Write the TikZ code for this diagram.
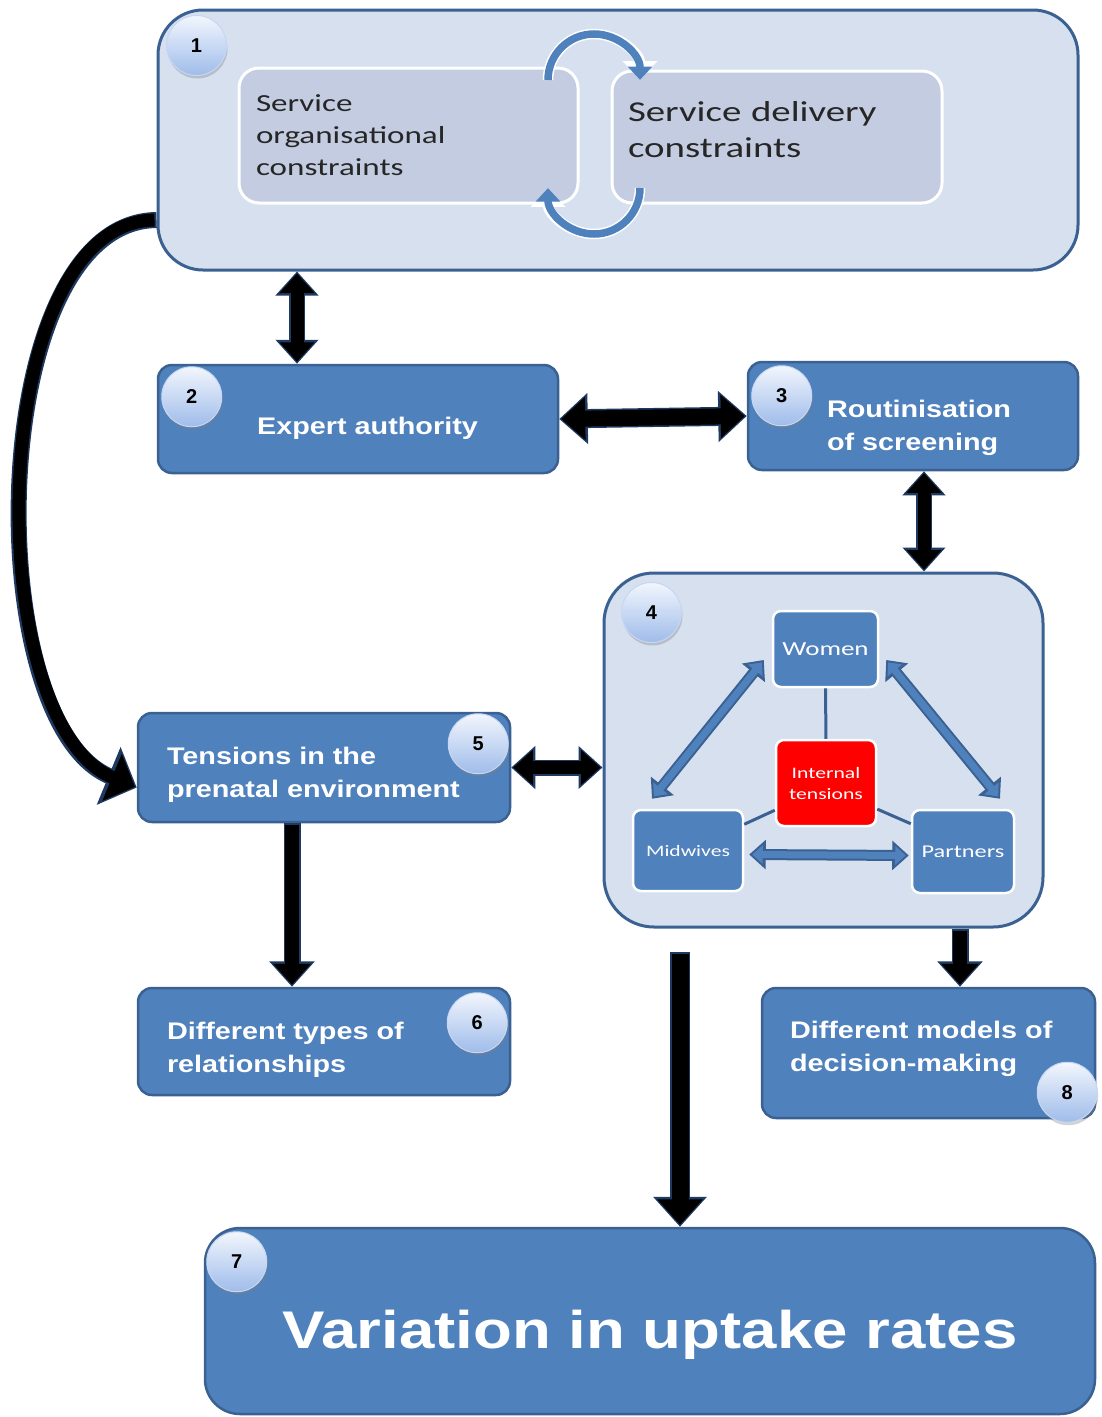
\documentclass[tikz,border=0pt]{standalone}
\usepackage{fontspec}
\usetikzlibrary{positioning,arrows.meta,shadows}
\newfontfamily\headfont{Liberation Sans Bold}[FakeStretch=1.2]
\newfontfamily\bodyfont{Carlito}[FakeStretch=1.35]
\newfontfamily\numfont{Liberation Sans Bold}
\definecolor{boxblue}{HTML}{4F81BD}
\definecolor{boxedge}{HTML}{3A6191}
\definecolor{paleblue}{HTML}{D6E0EF}
\definecolor{greyblue}{HTML}{C3CCE0}
\definecolor{navy}{HTML}{1F3A60}
\definecolor{badgetop}{HTML}{F2F6FD}
\definecolor{badgebot}{HTML}{9FBCEA}
\tikzset{
  bt/.tip={Triangle[width=0pt 2.6,length=0pt 1.5]},
  bigt/.tip={Triangle[width=0pt 3.8,length=0pt 1.9]},
  ct/.tip={Triangle[width=0pt 3.2,length=0pt 1.8]},
}
% struts that push a label down (\dn) or up (\up)
\newcommand{\dn}[1]{\rule{0pt}{#1}}
\newcommand{\up}[1]{\rule[-#1]{0pt}{0pt}}
\begin{document}
\begin{tikzpicture}[x=1pt, y=-1pt,
  panel/.style={draw=boxedge, line width=3pt, fill=paleblue, rounded corners=45pt},
  sub/.style={draw=white, line width=3pt, fill=greyblue, rounded corners=20pt, align=left, text=black!85},
  box/.style={draw=boxedge, line width=2.5pt, fill=boxblue, rounded corners=14pt, text=white, font=\headfont\fontsize{24}{33}\selectfont},
  mini/.style={draw=white, line width=2.5pt, fill=boxblue, rounded corners=8pt, text=white, align=center},
  badge/.style={circle, minimum size=60pt, inner sep=0pt, top color=badgetop, bottom color=badgebot, draw=badgebot!60!white, line width=1pt, drop shadow={opacity=0.35, shadow xshift=1pt, shadow yshift=-3pt}, font=\numfont\fontsize{20}{20}\selectfont},
  blk/.style 2 args={draw=navy, line width=#1, postaction={draw=black, line width=#2, shorten <=2pt, shorten >=2pt}},
  blu/.style={draw=boxedge, line width=11pt, {bt}-{bt}, postaction={draw=boxblue, line width=7pt, shorten <=3pt, shorten >=3pt}},
  cyc/.style={draw=boxblue, line width=7.5pt, -{ct}, preaction={draw=white, line width=10.5pt}},
  link/.style={draw=boxedge, line width=3pt}]
\useasboundingbox (0,0) rectangle (1102,1417);

% constraints panel
\node[panel, minimum width=920pt, minimum height=260pt] (b1) at (618,140) {};
\node[sub, minimum width=339pt, minimum height=135pt, inner xsep=17pt, text width=305pt, font=\bodyfont\fontsize{24.5}{32}\selectfont] (s1) at (408.5,135.5) {Service\\organisational\\constraints};
\node[sub, minimum width=330pt, minimum height=132pt, inner xsep=16pt, text width=298pt, font=\bodyfont\fontsize{28.8}{36}\selectfont] (s2) at (777,137) {Service delivery\\constraints\up{16pt}};
\draw[cyc] (548,80) arc[start angle=180, end angle=360, radius=46];
\draw[cyc] (640,188) arc[start angle=0, end angle=180, radius=46];

% main boxes
\node[box, minimum width=400pt, minimum height=108pt] (b2) at (358,419) {\dn{35pt}\hspace*{19pt}Expert authority};
\node[box, minimum width=330pt, minimum height=108pt, align=left] (b3) at (913,416) {\dn{41pt}\hspace*{12pt}Routinisation\\\hspace*{12pt}of screening};
\node[panel, rounded corners=50pt, minimum width=439pt, minimum height=354pt] (b4) at (823.5,750) {};
\node[box, minimum width=372pt, minimum height=109pt, inner xsep=29pt, text width=314pt, align=left] (b5) at (324,767.5) {\dn{31pt}Tensions in the\\prenatal environment};
\node[box, minimum width=372pt, minimum height=107pt, inner xsep=29pt, text width=314pt, align=left] (b6) at (324,1041.5) {\dn{34pt}Different types of\\relationships};
\node[box, minimum width=333pt, minimum height=130pt, inner xsep=28pt, text width=277pt, align=left] (b8) at (928.5,1053) {Different models of\\decision-making\up{14pt}};
\node[box, rounded corners=35pt, minimum width=890pt, minimum height=186pt, font=\headfont\fontsize{53}{60}\selectfont] (b7) at (650,1321) {\dn{66pt}Variation in uptake rates};

% actors inside panel 4
\node[mini, minimum width=105pt, minimum height=76pt, font=\bodyfont\fontsize{20}{20}\selectfont] (women) at (825.5,649) {Women};
\node[mini, fill=red, minimum width=100pt, minimum height=86pt, font=\bodyfont\fontsize{16}{21}\selectfont] (tens) at (826,783) {Internal\\tensions};
\node[mini, minimum width=110pt, minimum height=81pt, font=\bodyfont\fontsize{16}{20}\selectfont] (midw) at (688,850.5) {Midwives};
\node[mini, minimum width=102pt, minimum height=83pt, font=\bodyfont\fontsize{18}{20}\selectfont] (partn) at (963,851.5) {Partners};
\draw[link] (women) -- (tens);
\draw[link] (tens.208) -- (midw.25);
\draw[link] (tens.333) -- (partn.152);
\draw[blu] ([xshift=-8pt,yshift=-11pt]women.west) -- ([xshift=-36pt,yshift=10pt]midw.north);
\draw[blu] ([xshift=7pt,yshift=-11pt]women.east) -- ([xshift=37pt,yshift=10pt]partn.north);
\draw[blu] ([xshift=5pt,yshift=-4pt]midw.east) -- ([xshift=-2pt,yshift=-4pt]partn.west);

% black connectors
\coordinate (drop) at (680,952);
\draw[blk={16pt}{13pt}, {bt}-{bt}] ([xshift=-61pt]b2.north) -- ([xshift=-61pt]b2.north |- b1.south);
\draw[blk={19pt}{16pt}, {bt}-{bt}] (b2.east) -- (b3.west);
\draw[blk={16pt}{13pt}, {bt}-{bt}] ([xshift=11pt]b3.south) -- ([xshift=11pt]b3.south |- b4.north);
\draw[blk={16pt}{13pt}, {bt}-{bt}] (b5.east) -- (b5.east -| b4.west);
\draw[blk={17pt}{14pt}, -{bt}] ([xshift=-32pt]b5.south) -- ([xshift=-32pt]b5.south |- b6.north);
\draw[blk={17pt}{14pt}, -{bt}] ([xshift=31.5pt]b8.north |- b4.south) -- ([xshift=31.5pt]b8.north);
\draw[blk={20pt}{17pt}, -{bt}] (drop) -- (drop |- b7.north);
\draw[blk={16pt}{13pt}, -{bigt}] ([yshift=-80pt]b1.west) .. controls (-15,222) and (-22,722) .. ([yshift=-20pt]b5.west);

% numbered badges
\node[badge] (n1) at ([shift={(40,37)}]b1.north west) {1};
\node[badge] (n2) at ([shift={(35,33)}]b2.north west) {2};
\node[badge] (n3) at ([shift={(35,35)}]b3.north west) {3};
\node[badge] (n4) at ([shift={(49,41)}]b4.north west) {4};
\node[badge] (n5) at ([shift={(-33,32)}]b5.north east) {5};
\node[badge] (n6) at ([shift={(-34,36)}]b6.north east) {6};
\node[badge] (n7) at ([shift={(33,35)}]b7.north west) {7};
\node[badge] (n8) at ([shift={(-29,-27)}]b8.south east) {8};
\end{tikzpicture}
\end{document}
